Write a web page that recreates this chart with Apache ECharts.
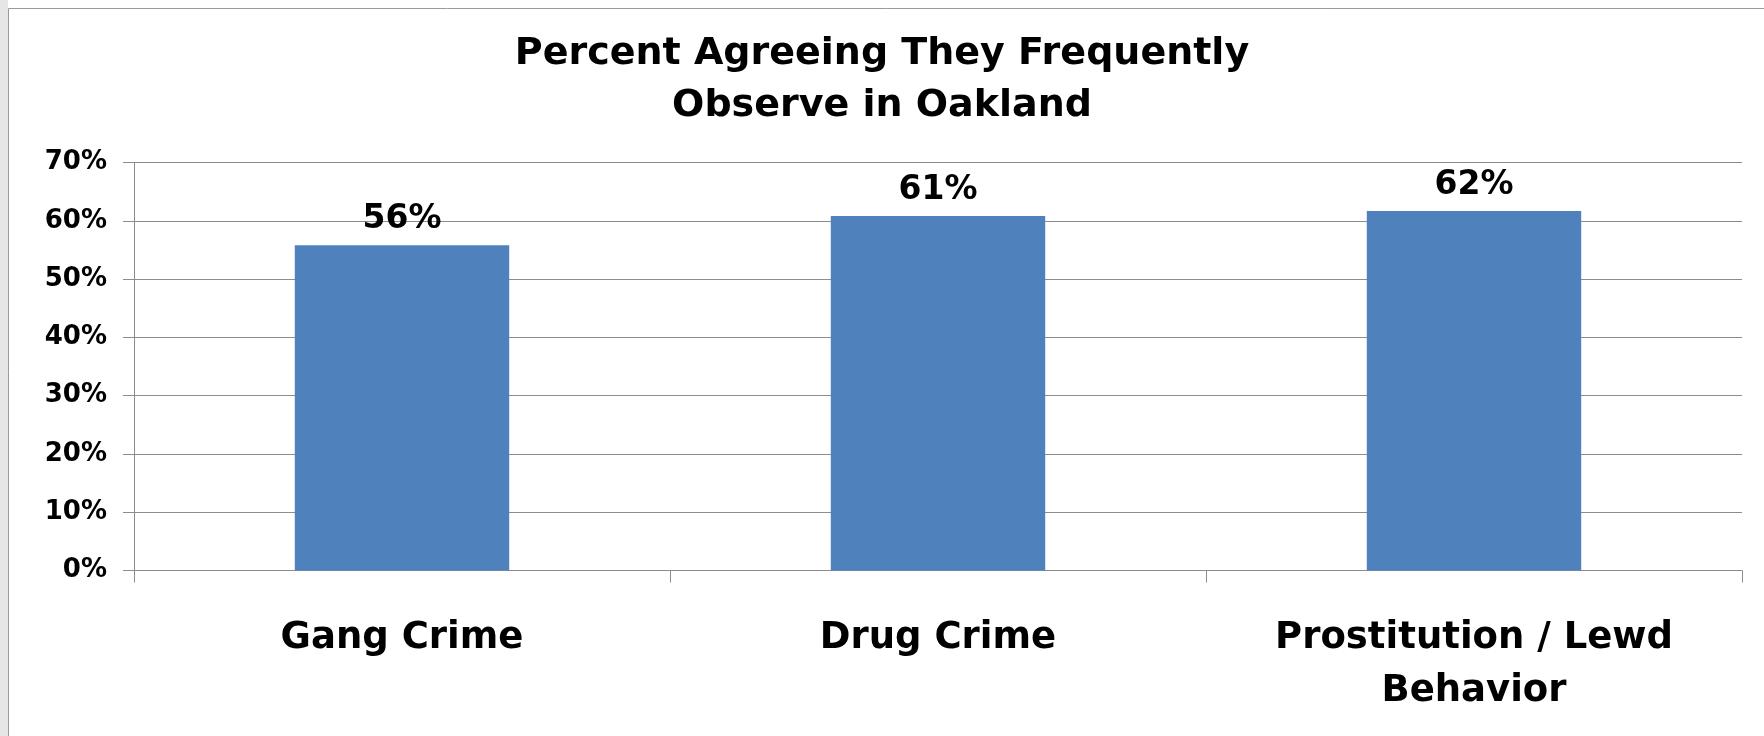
<!DOCTYPE html>
<html>
<head>
<meta charset="utf-8">
<script src="https://cdn.jsdelivr.net/npm/echarts@6/dist/echarts.min.js"></script>
<style>
html,body{margin:0;padding:0;background:#fff;}
#chart{width:1764px;height:736px;}
</style>
</head>
<body>
<div id="chart"></div>
<script>
const titleText = 'Percent Agreeing They Frequently\nObserve in Oakland';
const categories = ['Gang Crime', 'Drug Crime', 'Prostitution / Lewd\nBehavior'];
const values = [0.558, 0.608, 0.617];
const yTicks = { min: 0, max: 0.7, interval: 0.1 };

const FONT = 'DejaVu Sans';
const chart = echarts.init(document.getElementById('chart'));
chart.setOption({
  backgroundColor: '#ffffff',
  animation: false,
  title: {
    text: titleText,
    left: 'center',
    top: 28,
    padding: [0, 0, 0, 16],
    textStyle: { fontFamily: FONT, fontWeight: 'bold', fontSize: 38, lineHeight: 52, color: '#000', align: 'center' }
  },
  graphic: [
    { type: 'rect', left: 0, top: 0, shape: { width: 8, height: 736 }, style: { fill: '#e6e6e6' }, silent: true },
    { type: 'line', shape: { x1: 8.5, y1: 8.5, x2: 8.5, y2: 736 }, style: { stroke: '#9a9a9a', lineWidth: 1 }, silent: true },
    { type: 'line', shape: { x1: 8.5, y1: 8.5, x2: 1764, y2: 8.5 }, style: { stroke: '#9a9a9a', lineWidth: 1 }, silent: true }
  ],
  grid: { left: 134, right: 22, top: 162.5, bottom: 165.5, containLabel: false },
  xAxis: {
    type: 'category',
    data: categories,
    axisLine: { lineStyle: { color: '#8c8c8c', width: 1 } },
    axisTick: { show: true, alignWithLabel: false, length: 12, lineStyle: { color: '#8c8c8c' } },
    axisLabel: { margin: 41, fontFamily: FONT, fontWeight: 'bold', fontSize: 37, lineHeight: 53, color: '#000', interval: 0 }
  },
  yAxis: {
    type: 'value',
    min: yTicks.min, max: yTicks.max, interval: yTicks.interval,
    axisLine: { show: true, lineStyle: { color: '#8c8c8c', width: 1 } },
    axisTick: { show: true, length: 11, lineStyle: { color: '#8c8c8c' } },
    splitLine: { lineStyle: { color: '#8c8c8c', width: 1 } },
    axisLabel: { margin: 27, fontFamily: FONT, fontWeight: 'bold', fontSize: 26, color: '#000',
      formatter: v => Math.round(v * 100) + '%' }
  },
  series: [{
    type: 'bar',
    data: values,
    barCategoryGap: '60%',
    itemStyle: { color: '#4F81BD' },
    label: {
      show: true, position: 'top', distance: 9,
      fontFamily: FONT, fontWeight: 'bold', fontSize: 33, color: '#000',
      formatter: p => Math.round(p.value * 100) + '%'
    }
  }]
});
</script>
</body>
</html>
